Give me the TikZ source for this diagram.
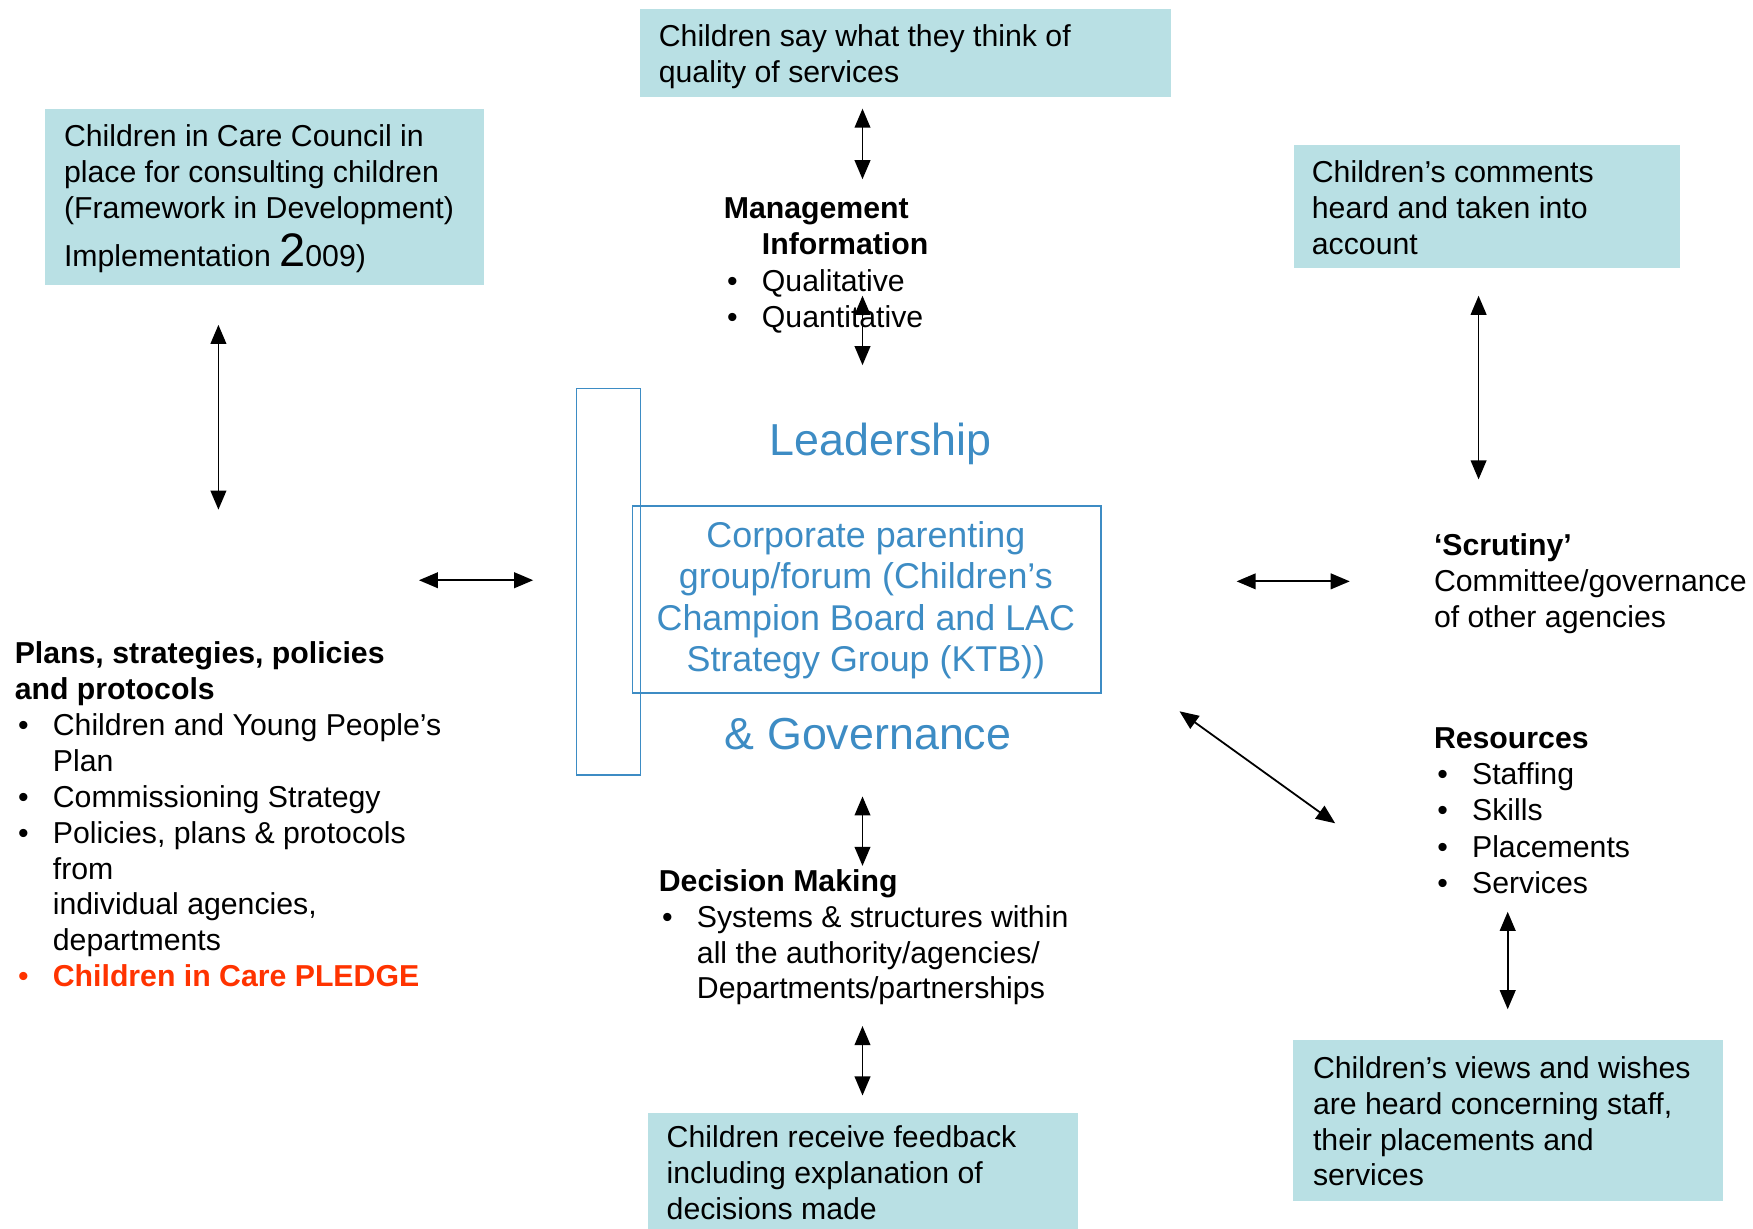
\documentclass[tikz,border=0pt]{standalone}
\usepackage{fontspec}
\setmainfont{Liberation Sans}
\usetikzlibrary{arrows.meta}
\definecolor{tealfill}{HTML}{B9E0E4}
\definecolor{leadblue}{HTML}{3D8CC4}
\definecolor{pledgered}{HTML}{FF3300}
\newcommand{\bitem}[1]{\makebox[34pt][l]{\hspace*{3pt}\textbullet}#1}
\newcommand{\hitem}[1]{\hspace*{34pt}#1}
\begin{document}
\begin{tikzpicture}[x=1pt,y=-1pt,
  body/.style={font=\fontsize{27}{32}\selectfont, align=left, anchor=north west, inner sep=0pt},
  tealbox/.style={fill=tealfill, draw=none, anchor=north west, inner sep=0pt},
  bluebox/.style={draw=leadblue, line width=1.5pt, anchor=north west, inner sep=0pt},
  bigblue/.style={font=\fontsize{40}{46}\selectfont, text=leadblue, anchor=base, inner sep=0pt},
  dbl/.style={{Triangle[length=17pt,width=14pt]}-{Triangle[length=17pt,width=14pt]}, line width=1.6pt}
]
\useasboundingbox (0,0) rectangle (1565,1097);

% teal boxes
\node[tealbox, minimum width=474pt, minimum height=78pt] (topbox) at (571,8) {};
\node[tealbox, minimum width=392pt, minimum height=157pt] (tlbox) at (40,97) {};
\node[tealbox, minimum width=345pt, minimum height=110pt] (trbox) at (1155,129) {};
\node[tealbox, minimum width=384pt, minimum height=104pt] (botbox) at (578,993) {};
\node[tealbox, minimum width=384pt, minimum height=144pt] (brbox) at (1154,928) {};

% teal box texts
\node[body] (toptext) at (588,22) {Children say what they think of\\quality of services};
\node[body] (tltext) at (57,111) {Children in Care Council in\\place for consulting children\\(Framework in Development)\\[11pt]Implementation \smash{\fontsize{42}{42}\selectfont 2}009)};
\node[body] (trtext) at (1171,143) {Children’s comments\\heard and taken into\\account};
\node[body] (bottext) at (595,1005) {Children receive feedback\\including explanation of\\decisions made};
\node[body] (brtext) at (1172,943) {Children’s views and wishes\\are heard concerning staff,\\their placements and\\services};

% central blue shapes
\node[bluebox, minimum width=57pt, minimum height=345pt] (tall) at (514,346) {};
\node[bluebox, minimum width=418pt, minimum height=167pt] (corp) at (564,451) {};
\node[bigblue] (lead) at (786,407) {Leadership};
\node[bigblue] (gov) at (775,669) {\& Governance};
\node[font=\fontsize{32}{37}\selectfont, text=leadblue, align=center, inner sep=0pt] (corptext) at (773,536)
  {Corporate parenting\\group/forum (Children’s\\Champion Board and LAC\\Strategy Group (KTB))};

% black text blocks
\node[body, font=\fontsize{27}{32.6}\selectfont] (mgmt) at (646,176) {\textbf{Management}\\\hitem{\textbf{Information}}\\\bitem{Qualitative}\\\bitem{Quantitative}};
\node[body] (plans) at (13,573) {\textbf{Plans, strategies, policies}\\\textbf{and protocols}\\\bitem{Children and Young People’s}\\\hitem{Plan}\\\bitem{Commissioning Strategy}\\\bitem{Policies, plans \& protocols}\\\hitem{from}\\\hitem{individual agencies,}\\\hitem{departments}\\\textcolor{pledgered}{\bitem{\textbf{Children in Care PLEDGE}}}};
\node[body] (scrut) at (1280,476) {\textbf{‘Scrutiny’}\\Committee/governance\\of other agencies};
\node[body, font=\fontsize{27}{32.5}\selectfont] (res) at (1280,649) {\textbf{Resources}\\\bitem{Staffing}\\\bitem{Skills}\\\bitem{Placements}\\\bitem{Services}};
\node[body] (dec) at (588,776) {\textbf{Decision Making}\\\bitem{Systems \& structures within}\\\hitem{all the authority/agencies/}\\\hitem{Departments/partnerships}};

% arrow end points
\coordinate (a1s) at (770,97);   \coordinate (a1e) at (770,160);
\coordinate (a2s) at (770,264);  \coordinate (a2e) at (770,326);
\coordinate (a3s) at (195,290);  \coordinate (a3e) at (195,455);
\coordinate (a4s) at (374,518);  \coordinate (a4e) at (476,518);
\coordinate (a5s) at (1104,519); \coordinate (a5e) at (1205,519);
\coordinate (a6s) at (1320,264); \coordinate (a6e) at (1320,428);
\coordinate (a7s) at (1053,635); \coordinate (a7e) at (1192,735);
\coordinate (a8s) at (770,711);  \coordinate (a8e) at (770,773);
\coordinate (a9s) at (770,916);  \coordinate (a9e) at (770,978);
\coordinate (a10s) at (1346,814); \coordinate (a10e) at (1346,901);

\foreach \i in {1,...,10} { \draw[dbl] (a\i s) -- (a\i e); }
\end{tikzpicture}
\end{document}
